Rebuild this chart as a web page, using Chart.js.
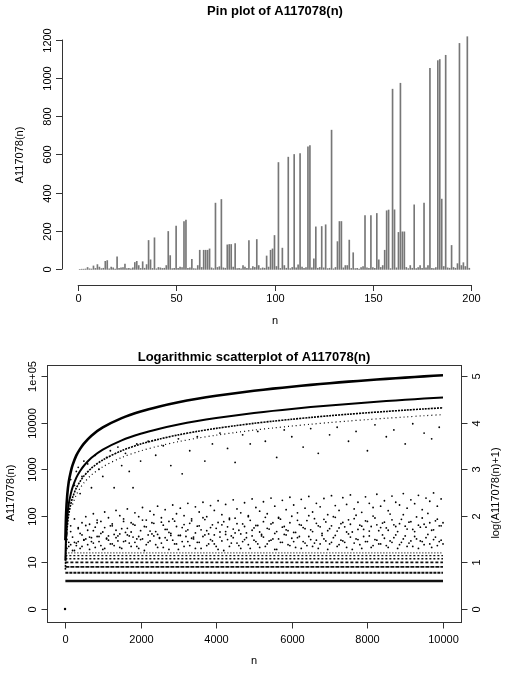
<!DOCTYPE html>
<html><head><meta charset="utf-8">
<script src="https://cdn.jsdelivr.net/npm/chart.js@4"></script>
<style>body{margin:0;background:#fff}#w1,#w2{position:absolute;left:0;width:510px;height:340px}#w1{top:0}#w2{top:340px}</style>
</head><body>
<div id="w1"><canvas id="c1" width="510" height="340"></canvas></div>
<div id="w2"><canvas id="c2" width="510" height="340"></canvas></div>
<script>
// ---- Pin plot data: A117078(n), n = 1..200
const pinValues = [0,1,1,2,10,3,2,18,5,25,12,4,6,42,46,3,12,8,2,66,5,8,10,28,4,6,3,8,36,42,20,5,40,6,25,151,50,5,165,3,10,8,5,6,20,198,72,4,6,226,6,12,10,250,258,6,8,52,4,3,20,100,10,100,100,100,107,8,4,346,10,14,365,8,6,128,130,130,12,135,4,6,3,20,12,6,151,4,14,10,156,20,4,8,6,70,12,100,107,177,15,558,5,111,20,6,586,4,10,600,8,24,605,12,5,10,640,647,8,55,222,6,10,224,8,233,4,6,727,3,10,145,250,250,8,20,20,153,5,87,4,6,2,10,15,281,8,6,281,10,5,292,50,10,20,100,306,310,4,941,311,8,193,972,196,196,10,4,20,6,337,4,10,20,6,346,8,20,1050,6,4,10,1090,1096,367,15,1118,8,6,125,10,6,30,1180,20,35,15,1215,6];
const pinXTicks = [0,50,100,150,200];
const pinYTicks = [0,200,400,600,800,1000,1200];

// ---- Log scatter data
const bandN = [10,30,60,100,150,200,300,400,500,700,1000,1500,2000,2500,3000,3500,4000,4500,5000,5500,6000,6500,7000,7500,8000,8500,9000,9500,10000];
const band1 = [29,113,281,541,863,1223,1987,2741,3571,5279,7919,12553,17389,22307,27449,32609,37813,43051,48611,53923,59359,64997,70657,76207,81799,87383,93179,98981,104729];
const band2 = [10,38,94,180,288,408,662,914,1190,1760,2640,4184,5796,7436,9150,10870,12604,14350,16204,17974,19786,21666,23552,25402,27266,29128,31060,32994,34910];
const band3 = [6,23,56,108,173,245,397,548,714,1056,1584,2511,3478,4461,5490,6522,7563,8610,9722,10785,11872,12999,14131,15241,16360,17477,18636,19796,20946];
const band4N = [200,300,400,500,700,1000,1500,2000,2500,3000,3500,4000,4500,5000,5500,6000,6500,7000,7500,8000,8500,9000,9500,10000];
const band4 = [175,284,392,510,754,1131,1793,2484,3187,3921,4658,5402,6150,6944,7703,8480,9285,10094,10887,11686,12483,13311,14140,14961];
const midN = [150,250,300,350,400,450,500,600,700,800,900,1000,1100,1200,1300,1400,1500,1600,1700,1800,1900,2000,2200,2400,2600,2800,3000,3100,3300,3500,3700,3900,4100,4300,4500,4700,4900,5100,5300,5600,5800,6000,6300,6500,6700,7000,7200,7500,7700,8000,8200,8500,8700,9000,9200,9500,9700,9900];
const midV = [600,450,900,1100,300,700,1500,1300,400,2000,1000,700,1800,2500,400,3000,1200,2200,900,400,3500,1500,4000,2000,3200,1200,4500,800,2500,5000,1500,3500,6000,2800,1400,5500,3500,6500,4000,1800,7000,5000,3000,7500,2200,5500,8000,4000,6500,2500,9000,5000,7000,3500,9500,6000,4500,8000];
const rowValues = [3,5,7,9,11,13,15];
const cloudN = [50,150,250,350,450,550,650,750,850,950,1050,1150,1250,1350,1450,1550,1650,1750,1850,1950,2050,2150,2250,2350,2450,2550,2650,2750,2850,2950,3050,3150,3250,3350,3450,3550,3650,3750,3850,3950,4050,4150,4250,4350,4450,4550,4650,4750,4850,4950,5050,5150,5250,5350,5450,5550,5650,5750,5850,5950,6050,6150,6250,6350,6450,6550,6650,6750,6850,6950,7050,7150,7250,7350,7450,7550,7650,7750,7850,7950,8050,8150,8250,8350,8450,8550,8650,8750,8850,8950,9050,9150,9250,9350,9450,9550,9650,9750,9850,9950];
const cloudN2 = [100,200,300,400,500,600,700,800,900,1000,1100,1200,1300,1400,1500,1600,1700,1800,1900,2000,2100,2200,2300,2400,2500,2600,2700,2800,2900,3000,3100,3200,3300,3400,3500,3600,3700,3800,3900,4000,4100,4200,4300,4400,4500,4600,4700,4800,4900,5000,5100,5200,5300,5400,5500,5600,5700,5800,5900,6000,6100,6200,6300,6400,6500,6600,6700,6800,6900,7000,7100,7200,7300,7400,7500,7600,7700,7800,7900,8000,8100,8200,8300,8400,8500,8600,8700,8800,8900,9000,9100,9200,9300,9400,9500,9600,9700,9800,9900,10000];
const cloudA = [19,23,17,27,21,31,18,25,35,22,19,29,24,33,20,27,38,21,26,19,31,23,28,36,20,25,33,18,29,24,37,21,27,32,19,26,35,22,30,24,18,28,39,21,33,25,19,30,23,36,27,20,34,24,29,18,31,26,38,22,27,33,19,25,35,21,29,24,31,18,26,37,23,28,20,34,25,30,19,27,36,22,29,24,32,20,26,38,23,31,21,28,35,19,27,33,24,30,22,29];
const cloudB = [30,45,26,52,38,61,34,47,70,41,55,36,66,48,40,75,53,44,62,35,80,57,46,68,39,72,50,43,85,58,37,64,49,77,42,60,90,47,55,38,71,63,45,82,51,67,40,58,95,48,61,44,74,53,66,41,88,56,49,70,43,79,62,52,100,45,68,57,83,47,60,92,54,71,44,65,86,50,59,77,46,98,63,55,72,48,81,58,67,105,51,74,45,62,89,56,70,49,84,60];
const cloudC = [40,60,85,55,70,95,65,110,80,75,120,90,60,130,100,85,140,70,115,95,150,80,125,105,160,90,135,75,170,110,145,100,185,85,155,120,195,95,165,130,210,105,175,88,220,140,115,190,100,230,150,125,200,110,240,160,92,215,135,250,170,115,225,145,260,120,185,155,235,105,270,165,130,245,175,280,140,195,118,255,185,150,290,160,210,128,265,195,170,300,145,220,182,275,135,240,205,310,160,230];
const cloudD = [21,17,25,19,29,23,33,20,27,18,31,24,22,36,19,28,25,34,21,30,17,26,40,23,32,20,29,37,24,18,27,35,22,31,26,19,38,24,28,21,34,17,30,25,42,22,27,33,19,29,24,36,21,28,31,18,26,39,23,32,20,35,27,22,30,25,19,37,28,24,33,21,29,26,40,18,31,23,35,27,20,30,24,38,22,28,33,19,26,36,25,21,31,28,23,39,20,34,27,24];
const cloudE = [26,34,22,41,30,48,27,56,35,44,32,60,39,28,52,43,36,65,31,47,58,38,70,45,33,62,50,41,76,37,55,46,68,34,59,49,82,40,63,53,44,74,57,36,88,48,66,42,79,54,61,39,92,51,70,45,84,58,47,97,43,64,55,78,49,86,60,41,73,52,95,46,67,57,81,44,102,62,50,75,58,89,47,69,54,108,63,45,83,59,72,50,94,56,65,112,48,77,60,70];
const scXTicks = [0,2000,4000,6000,8000,10000];
const scYTickLabels = ['0','10','100','1000','10000','1e+05'];
const scY2Ticks = [0,1,2,3,4,5];

const FONT = '"Liberation Sans", Arial, sans-serif';
const L = v => Math.log10(v + 1);

function textRot(ctx, t, x, y) { ctx.save(); ctx.translate(x, y); ctx.rotate(-Math.PI/2); ctx.fillText(t, 0, 0); ctx.restore(); }

// ---------- Chart 1: pin plot
const pinData = pinValues.map((v, i) => ({x: i + 1, y: v}));
new Chart(document.getElementById('c1'), {
  type: 'bar',
  data: { datasets: [{ data: pinData, backgroundColor: '#777', barThickness: 1 }] },
  options: {
    responsive: false, animation: false,
    layout: { padding: { left: 62, right: 23, top: 30, bottom: 62 } },
    plugins: { legend: { display: false }, tooltip: { enabled: false } },
    scales: {
      x: { type: 'linear', min: -8, max: 208, offset: false, display: false },
      y: { min: -45, max: 1250, display: false }
    }
  },
  plugins: [{ id: 'axes1', afterDraw(ch) {
    const c = ch.ctx, xs = ch.scales.x, ys = ch.scales.y;
    c.save(); c.fillStyle = '#000'; c.strokeStyle = '#333'; c.lineWidth = 1;
    c.font = 'bold 13px ' + FONT; c.textAlign = 'center'; c.textBaseline = 'middle';
    c.fillText('Pin plot of A117078(n)', 275, 11);
    c.font = '11px ' + FONT;
    const ay = 285;
    c.beginPath(); c.moveTo(xs.getPixelForValue(0), ay + .5); c.lineTo(xs.getPixelForValue(200), ay + .5); c.stroke();
    pinXTicks.forEach(t => { const px = Math.round(xs.getPixelForValue(t)) + .5; c.beginPath(); c.moveTo(px, ay); c.lineTo(px, ay + 6); c.stroke(); c.fillText(String(t), px, ay + 14); });
    const ax = 62;
    c.beginPath(); c.moveTo(ax + .5, ys.getPixelForValue(0)); c.lineTo(ax + .5, ys.getPixelForValue(1200)); c.stroke();
    pinYTicks.forEach(t => { const py = Math.round(ys.getPixelForValue(t)) + .5; c.beginPath(); c.moveTo(ax, py); c.lineTo(ax - 6, py); c.stroke(); textRot(c, String(t), ax - 14, py); });
    c.fillText('n', 275, 321);
    textRot(c, 'A117078(n)', 20, 155);
    c.restore();
  }}]
});

// ---------- Chart 2: log scatter
const pts = (ns, vs) => ns.map((n, i) => ({x: n, y: L(vs[i])}));
const lineDs = (ns, vs, w, dash) => ({ type: 'line', data: pts(ns, vs), borderColor: '#000', borderWidth: w, borderDash: dash, pointRadius: 0, tension: 0.3 });
const rowDs = (v, w, dash) => ({ type: 'line', data: [{x: 10, y: L(v)}, {x: 10000, y: L(v)}], borderColor: '#111', borderWidth: w, borderDash: dash, pointRadius: 0 });
const dotDs = (ns, vs) => ({ type: 'scatter', data: pts(ns, vs), backgroundColor: '#000', borderWidth: 0, pointRadius: 0.9 });
new Chart(document.getElementById('c2'), {
  type: 'scatter',
  data: { datasets: [
    lineDs(bandN, band1, 2.6, []),
    lineDs(bandN, band2, 2, []),
    lineDs(bandN, band3, 1.6, [2, 1]),
    lineDs(band4N, band4, 1.2, [1, 3]),
    rowDs(rowValues[0], 2.4, []),
    rowDs(rowValues[1], 1.8, [3, 1]),
    rowDs(rowValues[2], 1.8, [4, 1]),
    rowDs(rowValues[3], 1.8, [3, 2]),
    rowDs(rowValues[4], 1.6, [2, 2]),
    rowDs(rowValues[5], 1.4, [2, 2]),
    rowDs(rowValues[6], 1.2, [1, 2]),
    dotDs(cloudN, cloudA), dotDs(cloudN, cloudB), dotDs(cloudN, cloudC),
    dotDs(cloudN2, cloudD), dotDs(cloudN2, cloudE),
    dotDs(midN, midV),
    { type: 'scatter', data: [{x: 1, y: 0}], backgroundColor: '#000', pointRadius: 1.2, borderWidth: 0 }
  ]},
  options: {
    responsive: false, animation: false,
    layout: { padding: { left: 47, right: 49, top: 25, bottom: 58 } },
    plugins: { legend: { display: false }, tooltip: { enabled: false } },
    scales: {
      x: { type: 'linear', min: -476, max: 10476, display: false },
      y: { min: -0.28, max: 5.24, display: false }
    }
  },
  plugins: [{ id: 'axes2', afterDraw(ch) {
    const c = ch.ctx, xs = ch.scales.x, ys = ch.scales.y, a = ch.chartArea;
    c.save(); c.fillStyle = '#000'; c.strokeStyle = '#333'; c.lineWidth = 1;
    c.strokeRect(Math.round(a.left) + .5, Math.round(a.top) + .5, Math.round(a.right - a.left), Math.round(a.bottom - a.top));
    c.font = 'bold 13px ' + FONT; c.textAlign = 'center'; c.textBaseline = 'middle';
    c.fillText('Logarithmic scatterplot of A117078(n)', 254, 17);
    c.font = '11px ' + FONT;
    const by = Math.round(a.bottom) + .5;
    scXTicks.forEach(t => { const px = Math.round(xs.getPixelForValue(t)) + .5; c.beginPath(); c.moveTo(px, by); c.lineTo(px, by + 6); c.stroke(); c.fillText(String(t), px, by + 17); });
    const lx = Math.round(a.left) + .5, rx = Math.round(a.right) + .5;
    scY2Ticks.forEach((t, i) => {
      const py = Math.round(ys.getPixelForValue(t)) + .5;
      c.beginPath(); c.moveTo(lx, py); c.lineTo(lx - 6, py); c.stroke();
      textRot(c, scYTickLabels[i], lx - 15, py);
      c.beginPath(); c.moveTo(rx, py); c.lineTo(rx + 6, py); c.stroke();
      textRot(c, String(t), rx + 15, py);
    });
    c.fillText('n', 254, 321);
    textRot(c, 'A117078(n)', 11, 153);
    textRot(c, 'log(A117078(n)+1)', 496, 153);
    c.restore();
  }}]
});
</script>
</body></html>
